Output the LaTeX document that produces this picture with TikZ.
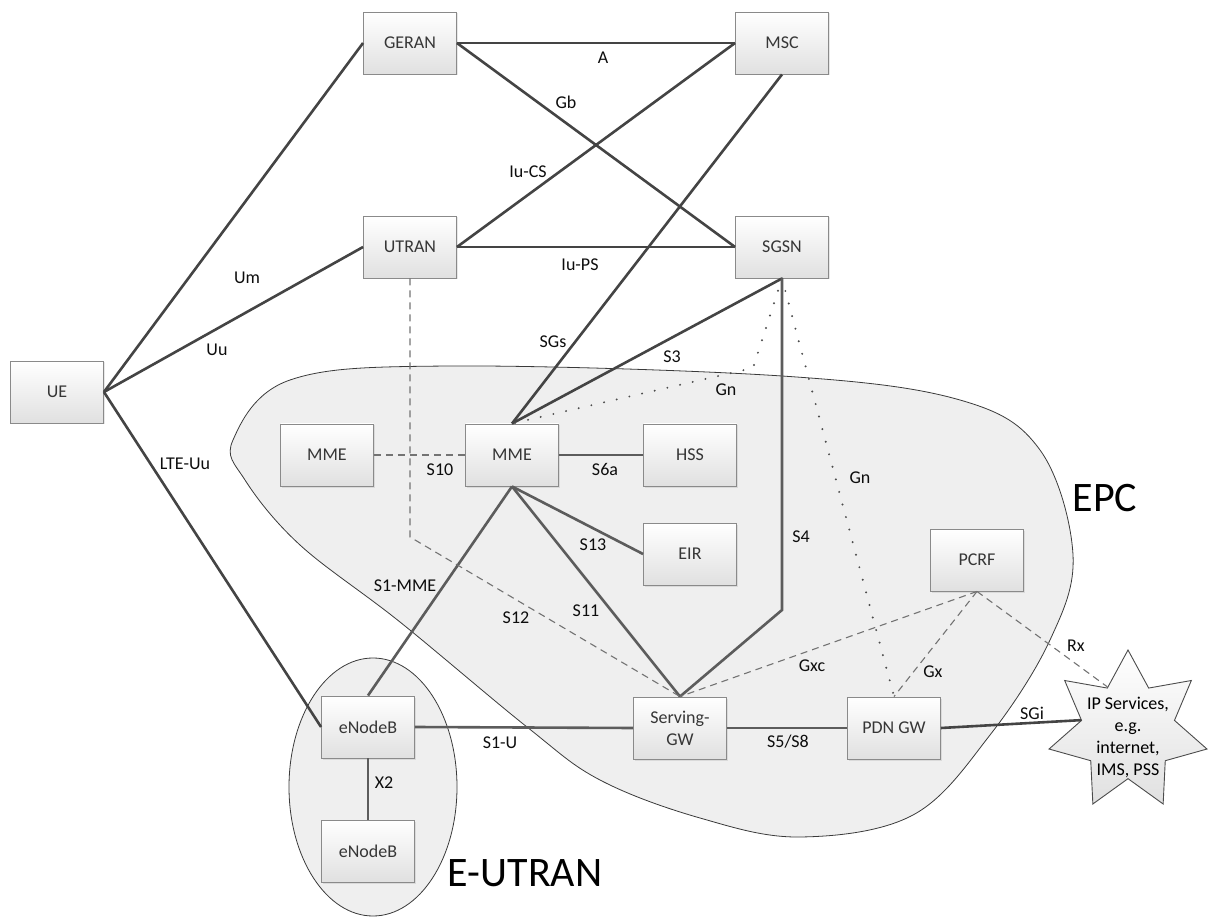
\documentclass[tikz,border=0pt]{standalone}
\usepackage{fontspec}
\setmainfont{Carlito}
\usetikzlibrary{shapes.geometric,shadows}
\definecolor{wire}{HTML}{444444}
\definecolor{wirein}{HTML}{5C5C5C}
\definecolor{boxline}{HTML}{8A8A8A}
\definecolor{boxtext}{HTML}{363636}
\definecolor{cloud}{HTML}{EFEFEF}
\definecolor{rim}{HTML}{3A3A3A}

\begin{document}
\begin{tikzpicture}[x=1pt,y=-1pt,
  netbox/.style={draw=boxline, line width=0.9pt, top color=white, bottom color=black!12,
    minimum width=93pt, minimum height=62pt, inner sep=0pt,
    font=\fontsize{18}{22}\selectfont, text=boxtext, align=center,
    drop shadow={opacity=0.18, shadow xshift=1.5pt, shadow yshift=-1.5pt}},
  iface/.style={draw=wire, line width=2.6pt},
  ifacein/.style={draw=wirein, line width=2.6pt},
  ctrl/.style={draw=black!55, line width=1.1pt, dash pattern=on 7pt off 5pt},
  legacy/.style={draw=black!70, line width=2.2pt, line cap=round, dash pattern=on 0pt off 13pt},
  lbl/.style={font=\fontsize{18}{22}\selectfont, text=black!95, inner sep=1pt},
  areaname/.style={font=\fontsize{42}{46}\selectfont, inner sep=0pt}
]
\useasboundingbox (0,0) rectangle (1211,917);

% core network domain and radio access domain
\path[draw=rim, line width=0.8pt, fill=cloud]
  plot[smooth cycle, tension=0.6] coordinates {
    (233,440) (290,380) (450,366) (782,376) (960,400) (1040,450)
    (1073,555) (1050,640) (990,735) (913,815) (800,837) (700,818)
    (600,780) (527,727) (400,622) (300,545) (245,480)};
\draw[rim, line width=0.8pt, fill=cloud] (373,787) ellipse [x radius=84, y radius=129];

\node[areaname] (epc) at (1105,498) {EPC};
\node[areaname] (eutran) at (525,873) {E-UTRAN};

% network elements
\node[netbox] (ue)    at (57,392)  {UE};
\node[netbox] (geran) at (410,43)  {GERAN};
\node[netbox] (msc)   at (782,43)  {MSC};
\node[netbox] (utran) at (410,247) {UTRAN};
\node[netbox] (sgsn)  at (782,247) {SGSN};
\node[netbox] (mmeB)  at (327,455) {MME};
\node[netbox] (mme)   at (512,455) {MME};
\node[netbox] (hss)   at (690,455) {HSS};
\node[netbox] (eir)   at (690,554) {EIR};
\node[netbox] (pcrf)  at (977,560) {PCRF};
\node[netbox] (enb1)  at (368,727) {eNodeB};
\node[netbox] (enb2)  at (368,851) {eNodeB};
\node[netbox] (sgw)   at (680,728) {Serving-\\GW};
\node[netbox] (pgw)   at (894,728) {PDN GW};
\node[star, star points=7, star point ratio=1.7, minimum size=162pt, inner sep=0pt,
      draw=black!70, line width=0.9pt, top color=white, bottom color=black!12] (ip) at (1128,731) {};
\node[align=center, font=\fontsize{18}{22}\selectfont] (iptext) at (1128,737)
  {IP Services,\\e.g.\\internet,\\IMS, PSS};

% bend points
\coordinate (gnbend) at (753,368);
\coordinate (s4bend) at (782,610);
\coordinate (s12bend) at (410,537);

% interfaces
\draw[iface] (ue.east) -- (geran.west);
\draw[iface] (ue.east) -- (utran.west);
\draw[iface] (ue.east) -- (enb1.west);
\draw[iface] (geran.east) -- (msc.west);
\draw[iface] (geran.east) -- (sgsn.west);
\draw[iface] (utran.east) -- (msc.west);
\draw[iface] (utran.east) -- (sgsn.west);
\draw[iface] (msc.south) -- (mme.north);
\draw[iface] (sgsn.south) -- (mme.north);
\draw[legacy] (sgsn.south) -- (gnbend) -- (mme.north);
\draw[legacy] (sgsn.south) -- (pgw.north);
\draw[ifacein] (sgsn.south) -- (s4bend) -- (sgw.north);
\draw[ifacein] (mme.east) -- (hss.west);
\draw[ifacein] (mme.south) -- (eir.west);
\draw[ifacein] (mme.south) -- (enb1.north);
\draw[ifacein] (mme.south) -- (sgw.north);
\draw[ctrl] (mmeB.east) -- (mme.west);
\draw[ctrl] (utran.south) -- (s12bend) -- (sgw.north);
\draw[ctrl] (pcrf.south) -- (sgw.north);
\draw[ctrl] (pcrf.south) -- (pgw.north);
\draw[ctrl] (pcrf.south) -- (ip.115.7);
\draw[ifacein] (enb1.east) -- (sgw.west);
\draw[ifacein] (sgw.east) -- (pgw.west);
\draw[ifacein] (enb1.south) -- (enb2.north);
\draw[iface] (pgw.east) -- (ip.167.1);

% interface names
\node[lbl] (lUm)   at (247,278) {Um};
\node[lbl] (lUu)   at (217,350) {Uu};
\node[lbl] (lLTE)  at (185,464) {LTE-Uu};
\node[lbl] (lA)    at (603,58)  {A};
\node[lbl] (lGb)   at (566,102) {Gb};
\node[lbl] (lIuCS) at (528,172) {Iu-CS};
\node[lbl] (lIuPS) at (580,265) {Iu-PS};
\node[lbl] (lSGs)  at (553,342) {SGs};
\node[lbl] (lS3)   at (672,357) {S3};
\node[lbl] (lGn1)  at (726,390) {Gn};
\node[lbl] (lS10)  at (440,470) {S10};
\node[lbl] (lS6a)  at (605,469) {S6a};
\node[lbl] (lS13)  at (593,545) {S13};
\node[lbl] (lS1M)  at (405,586) {S1-MME};
\node[lbl] (lS12)  at (516,618) {S12};
\node[lbl] (lS11)  at (586,611) {S11};
\node[lbl] (lS4)   at (801,537) {S4};
\node[lbl] (lGn2)  at (860,478) {Gn};
\node[lbl] (lGxc)  at (812,666) {Gxc};
\node[lbl] (lGx)   at (933,672) {Gx};
\node[lbl] (lRx)   at (1076,646) {Rx};
\node[lbl] (lS1U)  at (500,743) {S1-U};
\node[lbl] (lS5)   at (788,742) {S5/S8};
\node[lbl] (lSGi)  at (1032,713) {SGi};
\node[lbl] (lX2)   at (384,783) {X2};
\end{tikzpicture}
\end{document}
